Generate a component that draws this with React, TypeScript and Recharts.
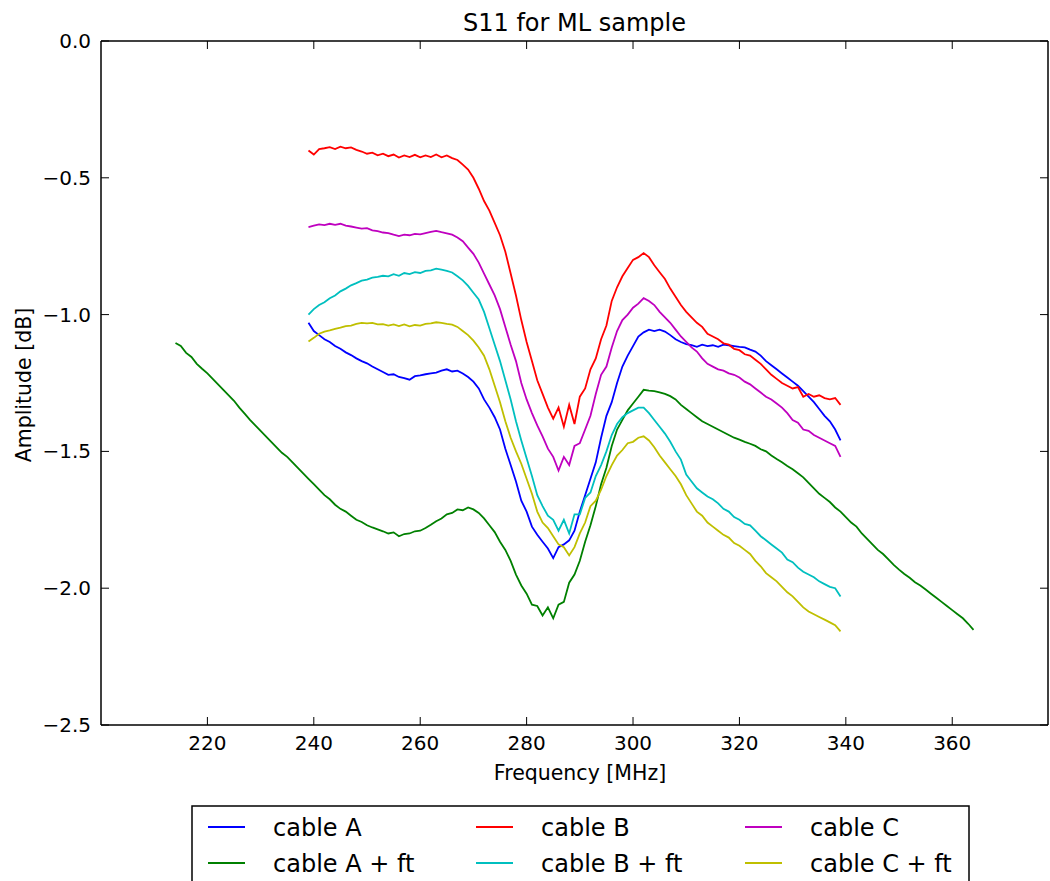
import React from "react";
import { LineChart, Line, XAxis, YAxis } from "recharts";

const freqLong = [
  214, 215, 216, 217, 218, 219, 220, 221, 222, 223, 224, 225, 226, 227, 228, 229, 230, 231, 232, 233,
  234, 235, 236, 237, 238, 239, 240, 241, 242, 243, 244, 245, 246, 247, 248, 249, 250, 251, 252, 253,
  254, 255, 256, 257, 258, 259, 260, 261, 262, 263, 264, 265, 266, 267, 268, 269, 270, 271, 272, 273,
  274, 275, 276, 277, 278, 279, 280, 281, 282, 283, 284, 285, 286, 287, 288, 289, 290, 291, 292, 293,
  294, 295, 296, 297, 298, 299, 300, 301, 302, 303, 304, 305, 306, 307, 308, 309, 310, 311, 312, 313,
  314, 315, 316, 317, 318, 319, 320, 321, 322, 323, 324, 325, 326, 327, 328, 329, 330, 331, 332, 333,
  334, 335, 336, 337, 338, 339, 340, 341, 342, 343, 344, 345, 346, 347, 348, 349, 350, 351, 352, 353,
  354, 355, 356, 357, 358, 359, 360, 361, 362, 363, 364,
];

const freqMain = [
  239, 240, 241, 242, 243, 244, 245, 246, 247, 248, 249, 250, 251, 252, 253, 254, 255, 256, 257, 258,
  259, 260, 261, 262, 263, 264, 265, 266, 267, 268, 269, 270, 271, 272, 273, 274, 275, 276, 277, 278,
  279, 280, 281, 282, 283, 284, 285, 286, 287, 288, 289, 290, 291, 292, 293, 294, 295, 296, 297, 298,
  299, 300, 301, 302, 303, 304, 305, 306, 307, 308, 309, 310, 311, 312, 313, 314, 315, 316, 317, 318,
  319, 320, 321, 322, 323, 324, 325, 326, 327, 328, 329, 330, 331, 332, 333, 334, 335, 336, 337, 338,
  339,
];

const cableA = [
  -1.030, -1.060, -1.075, -1.090, -1.100, -1.115, -1.125, -1.138, -1.148, -1.160,
  -1.170, -1.178, -1.190, -1.200, -1.210, -1.220, -1.218, -1.228, -1.232, -1.238,
  -1.225, -1.222, -1.218, -1.215, -1.212, -1.205, -1.200, -1.208, -1.205, -1.215,
  -1.228, -1.245, -1.270, -1.310, -1.340, -1.375, -1.420, -1.490, -1.550, -1.610,
  -1.680, -1.720, -1.775, -1.805, -1.830, -1.855, -1.890, -1.850, -1.840, -1.825,
  -1.790, -1.720, -1.660, -1.600, -1.540, -1.450, -1.370, -1.320, -1.250, -1.190,
  -1.150, -1.115, -1.080, -1.065, -1.055, -1.060, -1.055, -1.062, -1.075, -1.090,
  -1.100, -1.108, -1.112, -1.118, -1.110, -1.115, -1.112, -1.118, -1.110, -1.112,
  -1.115, -1.118, -1.120, -1.128, -1.135, -1.150, -1.170, -1.185, -1.200, -1.215,
  -1.230, -1.245, -1.260, -1.280, -1.300, -1.320, -1.345, -1.370, -1.390, -1.420,
  -1.460,
];

const cableB = [
  -0.400, -0.415, -0.395, -0.392, -0.388, -0.395, -0.386, -0.392, -0.389, -0.398,
  -0.404, -0.412, -0.408, -0.418, -0.412, -0.421, -0.415, -0.426, -0.418, -0.424,
  -0.416, -0.425, -0.418, -0.424, -0.415, -0.425, -0.418, -0.428, -0.435, -0.452,
  -0.470, -0.500, -0.540, -0.585, -0.620, -0.665, -0.710, -0.770, -0.850, -0.930,
  -1.020, -1.100, -1.170, -1.240, -1.290, -1.340, -1.380, -1.340, -1.410, -1.330,
  -1.400, -1.300, -1.270, -1.200, -1.160, -1.090, -1.040, -0.950, -0.900, -0.860,
  -0.830, -0.800, -0.790, -0.775, -0.790, -0.820, -0.845, -0.870, -0.905, -0.935,
  -0.965, -0.990, -1.010, -1.030, -1.045, -1.070, -1.080, -1.090, -1.105, -1.110,
  -1.125, -1.130, -1.145, -1.150, -1.165, -1.180, -1.200, -1.220, -1.235, -1.250,
  -1.260, -1.270, -1.265, -1.300, -1.290, -1.300, -1.295, -1.305, -1.310, -1.305,
  -1.330,
];

const cableC = [
  -0.680, -0.675, -0.670, -0.673, -0.668, -0.672, -0.668, -0.675, -0.678, -0.682,
  -0.686, -0.684, -0.692, -0.695, -0.700, -0.702, -0.708, -0.713, -0.708, -0.710,
  -0.705, -0.707, -0.702, -0.698, -0.694, -0.699, -0.703, -0.708, -0.718, -0.732,
  -0.755, -0.778, -0.810, -0.850, -0.890, -0.930, -0.980, -1.045, -1.110, -1.170,
  -1.250, -1.310, -1.360, -1.405, -1.445, -1.490, -1.520, -1.570, -1.520, -1.550,
  -1.480, -1.470, -1.420, -1.370, -1.290, -1.220, -1.190, -1.120, -1.060, -1.020,
  -1.000, -0.975, -0.960, -0.940, -0.950, -0.965, -0.990, -1.010, -1.030, -1.055,
  -1.080, -1.100, -1.120, -1.135, -1.160, -1.180, -1.190, -1.200, -1.205, -1.215,
  -1.220, -1.230, -1.245, -1.255, -1.270, -1.285, -1.300, -1.310, -1.325, -1.340,
  -1.360, -1.385, -1.395, -1.420, -1.425, -1.440, -1.450, -1.460, -1.470, -1.480,
  -1.520,
];

const cableAft = [
  -1.104, -1.115, -1.140, -1.155, -1.180, -1.198, -1.215, -1.235, -1.255, -1.275,
  -1.295, -1.315, -1.340, -1.362, -1.385, -1.405, -1.425, -1.445, -1.465, -1.485,
  -1.505, -1.520, -1.540, -1.560, -1.580, -1.600, -1.620, -1.640, -1.660, -1.675,
  -1.695, -1.710, -1.720, -1.735, -1.750, -1.758, -1.770, -1.778, -1.785, -1.792,
  -1.800, -1.796, -1.810, -1.802, -1.800, -1.792, -1.790, -1.780, -1.768, -1.755,
  -1.745, -1.730, -1.725, -1.712, -1.715, -1.705, -1.712, -1.725, -1.745, -1.770,
  -1.795, -1.830, -1.860, -1.900, -1.950, -1.990, -2.020, -2.060, -2.065, -2.100,
  -2.070, -2.110, -2.060, -2.050, -1.980, -1.950, -1.900, -1.830, -1.770, -1.700,
  -1.620, -1.560, -1.480, -1.420, -1.385, -1.350, -1.325, -1.300, -1.275, -1.278,
  -1.280, -1.284, -1.290, -1.298, -1.310, -1.330, -1.345, -1.360, -1.375, -1.390,
  -1.400, -1.410, -1.420, -1.430, -1.440, -1.450, -1.457, -1.465, -1.472, -1.480,
  -1.492, -1.500, -1.515, -1.528, -1.540, -1.553, -1.565, -1.580, -1.595, -1.615,
  -1.635, -1.655, -1.670, -1.685, -1.705, -1.720, -1.740, -1.760, -1.775, -1.800,
  -1.820, -1.840, -1.860, -1.875, -1.895, -1.915, -1.932, -1.948, -1.962, -1.978,
  -1.990, -2.005, -2.020, -2.035, -2.050, -2.065, -2.080, -2.095, -2.110, -2.130,
  -2.152,
];

const cableBft = [
  -1.000, -0.980, -0.965, -0.955, -0.940, -0.930, -0.915, -0.905, -0.893, -0.885,
  -0.876, -0.872, -0.865, -0.862, -0.858, -0.860, -0.852, -0.858, -0.848, -0.852,
  -0.845, -0.848, -0.840, -0.838, -0.832, -0.836, -0.840, -0.846, -0.860, -0.875,
  -0.895, -0.920, -0.945, -0.990, -1.050, -1.110, -1.170, -1.240, -1.310, -1.390,
  -1.460, -1.525, -1.590, -1.660, -1.700, -1.735, -1.750, -1.790, -1.750, -1.800,
  -1.730, -1.730, -1.670, -1.650, -1.590, -1.550, -1.500, -1.440, -1.400, -1.375,
  -1.360, -1.350, -1.340, -1.340, -1.360, -1.385, -1.410, -1.435, -1.465, -1.500,
  -1.530, -1.585, -1.610, -1.635, -1.650, -1.665, -1.675, -1.690, -1.710, -1.720,
  -1.740, -1.750, -1.765, -1.770, -1.790, -1.810, -1.825, -1.840, -1.855, -1.870,
  -1.895, -1.905, -1.925, -1.940, -1.950, -1.960, -1.975, -1.985, -1.995, -2.000,
  -2.030,
];

const cableCft = [
  -1.098, -1.085, -1.070, -1.062, -1.058, -1.052, -1.048, -1.042, -1.040, -1.034,
  -1.030, -1.032, -1.030, -1.036, -1.035, -1.040, -1.036, -1.042, -1.036, -1.043,
  -1.038, -1.040, -1.034, -1.032, -1.028, -1.030, -1.034, -1.037, -1.045, -1.060,
  -1.075, -1.095, -1.120, -1.150, -1.200, -1.260, -1.320, -1.390, -1.450, -1.500,
  -1.545, -1.600, -1.655, -1.720, -1.760, -1.780, -1.810, -1.840, -1.850, -1.880,
  -1.850, -1.800, -1.760, -1.700, -1.680, -1.640, -1.590, -1.550, -1.515, -1.495,
  -1.470, -1.465, -1.450, -1.445, -1.460, -1.485, -1.515, -1.540, -1.565, -1.590,
  -1.620, -1.660, -1.690, -1.720, -1.735, -1.760, -1.775, -1.790, -1.805, -1.815,
  -1.835, -1.845, -1.860, -1.875, -1.900, -1.920, -1.945, -1.960, -1.975, -1.995,
  -2.015, -2.030, -2.050, -2.070, -2.085, -2.095, -2.105, -2.115, -2.125, -2.135,
  -2.158,
];

const xTicks = [220, 240, 260, 280, 300, 320, 340, 360];
const yTicks = [0, -0.5, -1.0, -1.5, -2.0, -2.5];

// plotting order (matches legend column-major order)
const series = [
  { key: "cableA", name: "cable A", color: "#0000ff", values: cableA, freqs: freqMain },
  { key: "cableAft", name: "cable A + ft", color: "#008000", values: cableAft, freqs: freqLong },
  { key: "cableB", name: "cable B", color: "#ff0000", values: cableB, freqs: freqMain },
  { key: "cableBft", name: "cable B + ft", color: "#00bfbf", values: cableBft, freqs: freqMain },
  { key: "cableC", name: "cable C", color: "#bf00bf", values: cableC, freqs: freqMain },
  { key: "cableCft", name: "cable C + ft", color: "#bfbf00", values: cableCft, freqs: freqMain },
];

const data = freqLong.map((f) => {
  const row: Record<string, number | null> = { f };
  series.forEach((s) => {
    const i = s.freqs.indexOf(f);
    row[s.key] = i >= 0 ? s.values[i] : null;
  });
  return row;
});

const FONT = "DejaVu Sans, Verdana, sans-serif";
const fmtY = (v: number) => (v === 0 ? "0.0" : "\u2212" + Math.abs(v).toFixed(1));

const BottomTick = (props: any) => {
  const { x, y, payload } = props;
  return (
    <g>
      <line x1={x} y1={y} x2={x} y2={y - 8} stroke="#000" strokeWidth={1} />
      <text x={x} y={y + 25} textAnchor="middle" fontSize={20} fontFamily={FONT} fill="#000">
        {payload.value}
      </text>
    </g>
  );
};

const TopTick = (props: any) => {
  const { x, y } = props;
  return <line x1={x} y1={y} x2={x} y2={y + 8} stroke="#000" strokeWidth={1} />;
};

const LeftTick = (props: any) => {
  const { x, y, payload } = props;
  return (
    <g>
      <line x1={x} y1={y} x2={x + 8} y2={y} stroke="#000" strokeWidth={1} />
      <text x={x - 10} y={y + 7} textAnchor="end" fontSize={20} fontFamily={FONT} fill="#000">
        {fmtY(payload.value)}
      </text>
    </g>
  );
};

const RightTick = (props: any) => {
  const { x, y } = props;
  return <line x1={x} y1={y} x2={x - 8} y2={y} stroke="#000" strokeWidth={1} />;
};

const legendCols = [208, 476, 745];
const legendRows = [827, 863];

export default function App() {
  return (
    <div style={{ position: "absolute", left: 0, top: 0, width: 1050, height: 881, background: "#fff" }}>
      <LineChart
        width={1050}
        height={881}
        data={data}
        margin={{ top: 40, right: 1, bottom: 116, left: 41 }}
      >
        <XAxis
          dataKey="f"
          type="number"
          domain={[200, 378]}
          ticks={xTicks}
          interval={0}
          allowDataOverflow
          height={40}
          tickSize={0}
          tickMargin={0}
          tickLine={false}
          axisLine={{ stroke: "#000", strokeWidth: 1.5 }}
          tick={<BottomTick />}
        />
        <XAxis
          xAxisId="top"
          orientation="top"
          dataKey="f"
          type="number"
          domain={[200, 378]}
          ticks={xTicks}
          interval={0}
          allowDataOverflow
          height={1}
          tickSize={0}
          tickMargin={0}
          tickLine={false}
          axisLine={{ stroke: "#000", strokeWidth: 1.5 }}
          tick={<TopTick />}
        />
        <YAxis
          type="number"
          domain={[-2.5, 0]}
          ticks={yTicks}
          interval={0}
          allowDataOverflow
          width={60}
          tickSize={0}
          tickMargin={0}
          tickLine={false}
          axisLine={{ stroke: "#000", strokeWidth: 1.5 }}
          tick={<LeftTick />}
        />
        <YAxis
          yAxisId="right"
          orientation="right"
          type="number"
          domain={[-2.5, 0]}
          ticks={yTicks}
          interval={0}
          allowDataOverflow
          width={1}
          tickSize={0}
          tickMargin={0}
          tickLine={false}
          axisLine={{ stroke: "#000", strokeWidth: 1.5 }}
          tick={<RightTick />}
        />
        {series.map((s) => (
          <Line
            key={s.key}
            type="linear"
            dataKey={s.key}
            name={s.name}
            stroke={s.color}
            strokeWidth={1.8}
            dot={false}
            activeDot={false}
            connectNulls={false}
            isAnimationActive={false}
          />
        ))}
      </LineChart>
      <svg
        width={1050}
        height={881}
        style={{ position: "absolute", left: 0, top: 0, pointerEvents: "none" }}
      >
        <text x={574.5} y={31} textAnchor="middle" fontSize={24} fontFamily={FONT} fill="#000">
          S11 for ML sample
        </text>
        <text x={580} y={780} textAnchor="middle" fontSize={20.5} fontFamily={FONT} fill="#000">
          Frequency [MHz]
        </text>
        <text
          x={0}
          y={0}
          transform="translate(31,385) rotate(-90)"
          textAnchor="middle"
          fontSize={20.5}
          fontFamily={FONT}
          fill="#000"
        >
          Amplitude [dB]
        </text>
        <rect x={192} y={806} width={777} height={100} fill="#fff" stroke="#000" strokeWidth={1.5} />
        {series.map((s, i) => {
          const col = Math.floor(i / 2);
          const row = i % 2;
          const lx = legendCols[col];
          const ly = legendRows[row];
          return (
            <g key={s.key}>
              <line x1={lx} y1={ly} x2={lx + 37} y2={ly} stroke={s.color} strokeWidth={1.8} />
              <text x={lx + 65} y={ly + 9} fontSize={24} fontFamily={FONT} fill="#000">
                {s.name}
              </text>
            </g>
          );
        })}
      </svg>
    </div>
  );
}
